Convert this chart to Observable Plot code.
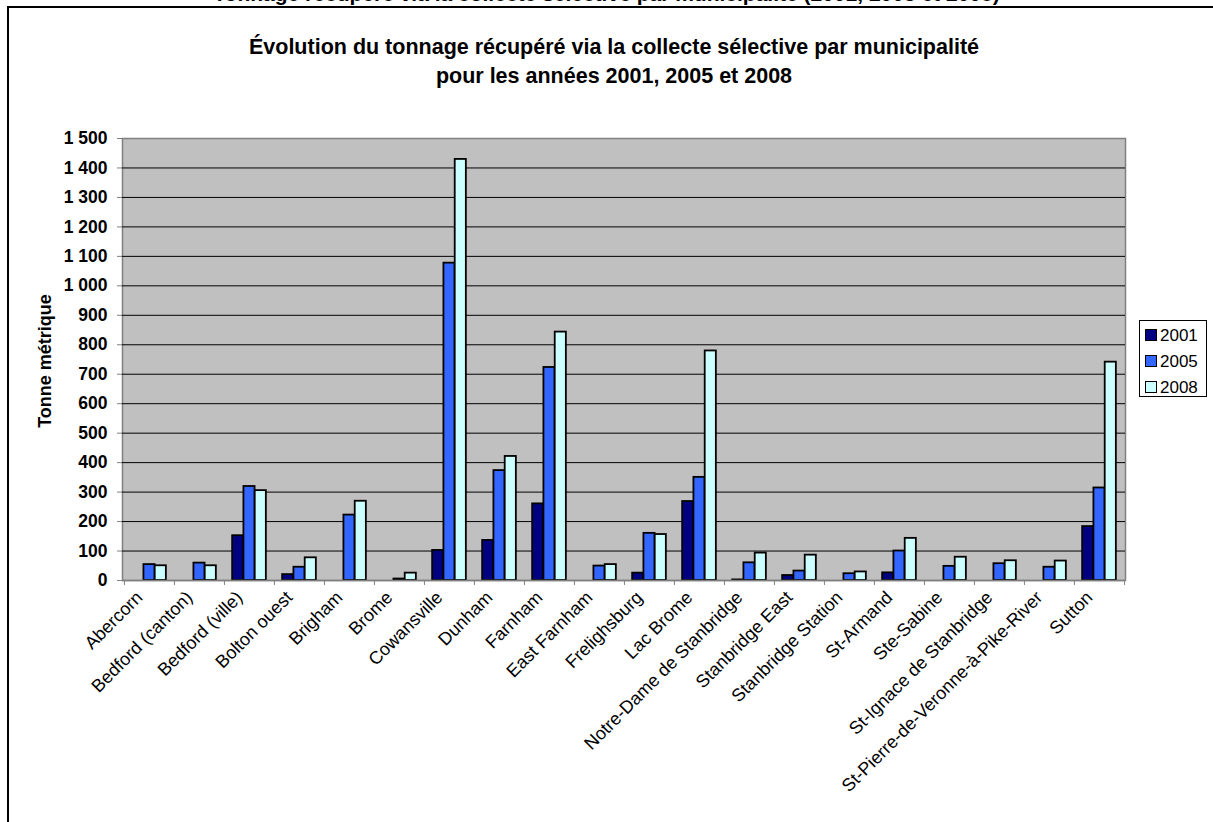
<!DOCTYPE html>
<html>
<head>
<meta charset="utf-8">
<script src="https://cdn.jsdelivr.net/npm/d3@7"></script>
<script src="https://cdn.jsdelivr.net/npm/@observablehq/plot@0.6"></script>
<style>
  html, body { margin: 0; padding: 0; background: #fff; }
  body { width: 1213px; height: 822px; position: relative; overflow: hidden; font-family: Arial, "Liberation Sans", sans-serif; }
  #heading { position: absolute; left: 0; width: 1213px; top: -18px; text-align: center; font-weight: bold; font-size: 21px; white-space: nowrap; }
  #frame { position: absolute; left: 7px; top: 6px; width: 1300px; height: 900px; border: 2px solid #000; box-sizing: border-box; }
  #title { position: absolute; left: 64px; width: 1100px; top: 33px; text-align: center; font-weight: bold; font-size: 21.5px; line-height: 29px; }
  #chart { position: absolute; left: 0; top: 0; }
  #ylabel { position: absolute; left: 45px; top: 361px; transform: translate(-50%, -50%) rotate(-90deg); font-weight: bold; font-size: 18px; white-space: nowrap; }
  #legend { position: absolute; left: 1139px; top: 320px; width: 68px; height: 77px; border: 1px solid #000; box-sizing: border-box; background: #fff; padding: 1px 0 0 5px; }
  .item { display: flex; align-items: center; height: 26px; font-size: 17px; line-height: 17px; }
  .sw { width: 10px; height: 10px; border: 1px solid #000; margin-right: 3px; flex: none; }
</style>
</head>
<body>
<div id="heading">Tonnage récupéré via la collecte sélective par municipalité (2001, 2005 et 2008)</div>
<div id="frame"></div>
<div id="title">Évolution du tonnage récupéré via la collecte sélective par municipalité<br>pour les années 2001, 2005 et 2008</div>
<div id="chart"></div>
<div id="ylabel">Tonne métrique</div>
<div id="legend"></div>
<script>
const municipalities = ["Abercorn", "Bedford (canton)", "Bedford (ville)", "Bolton ouest", "Brigham", "Brome", "Cowansville", "Dunham", "Farnham", "East Farnham", "Frelighsburg", "Lac Brome", "Notre-Dame de Stanbridge", "Stanbridge East", "Stanbridge Station", "St-Armand", "Ste-Sabine", "St-Ignace de Stanbridge", "St-Pierre-de-Veronne-à-Pike-River", "Sutton"];
const years = ["2001", "2005", "2008"];
const values2001 = [null, null, 152, 20, null, null, 102, 136, 260, null, 25, 268, 2, 17, null, 26, null, null, null, 183];
const values2005 = [54, 59, 319, 45, 222, 5, 1077, 373, 723, 49, 160, 350, 60, 32, 23, 100, 48, 57, 45, 314];
const values2008 = [50, 50, 305, 77, 269, 25, 1429, 421, 843, 54, 156, 779, 93, 86, 29, 143, 79, 67, 66, 741];
const yTicks = d3.range(0, 1501, 100);
const colors = ["#000080", "#3366FF", "#CCFFFF"];

const series = [values2001, values2005, values2008];
const W = 1213, H = 822, mL = 122, mR = 88, mT = 138, mB = 242;
const bw = (W - mL - mR) / municipalities.length;
const barW = bw * 0.225;

const fmt = d => d >= 1000 ? `${Math.floor(d / 1000)} ${String(d % 1000).padStart(3, "0")}` : `${d}`;

const barMarks = series.map((vals, i) => {
  const rows = municipalities.map((m, j) => ({m, v: vals[j]})).filter(d => d.v != null);
  const insetLeft = bw / 2 - 1.5 * barW + i * barW;
  return Plot.barY(rows, {
    x: "m", y: "v", fill: colors[i], stroke: "#000", strokeWidth: 1.8,
    insetLeft, insetRight: bw - insetLeft - barW
  });
});

const chart = Plot.plot({
  width: W, height: H,
  marginLeft: mL, marginRight: mR, marginTop: mT, marginBottom: mB,
  style: {fontFamily: 'Arial, "Liberation Sans", sans-serif', background: "transparent", color: "#000"},
  x: {domain: municipalities, padding: 0},
  y: {domain: [0, 1500]},
  marks: [
    Plot.frame({fill: "#C0C0C0", stroke: "#808080", strokeWidth: 1.5}),
    Plot.ruleY(yTicks.filter(d => d > 0 && d < 1500), {stroke: "#000", strokeWidth: 1}),
    ...barMarks,
    Plot.ruleY([0], {stroke: "#808080", strokeWidth: 1.5}),
    Plot.axisY({ticks: yTicks, tickFormat: fmt, tickSize: 5, tickPadding: 10, fontSize: 17.5, fontWeight: "bold", stroke: "#808080", fill: "#000", label: null}),
    Plot.axisX({tickSize: 0, tickRotate: -45, tickPadding: 24, dx: -10, dy: -10, fontSize: 18, fill: "#000", label: null}),
    Plot.axisX({tickSize: 5, text: null, dx: -bw / 2, stroke: "#808080", label: null}),
    Plot.axisX({ticks: [municipalities[municipalities.length - 1]], tickSize: 5, text: null, dx: bw / 2, stroke: "#808080", label: null})
  ]
});
document.getElementById("chart").appendChild(chart);

const legend = document.getElementById("legend");
years.forEach((y, i) => {
  const it = document.createElement("div");
  it.className = "item";
  it.innerHTML = `<span class="sw" style="background:${colors[i]}"></span><span>${y}</span>`;
  legend.appendChild(it);
});
</script>
</body>
</html>
